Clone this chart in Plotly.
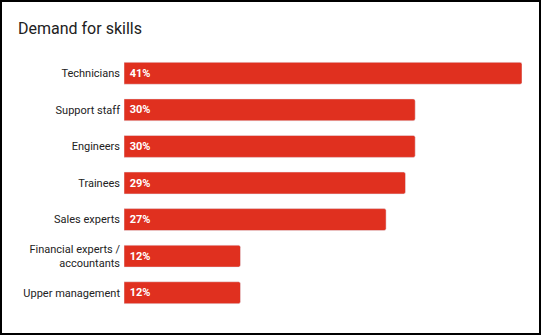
import plotly.graph_objects as go

categories = ["Technicians", "Support staff", "Engineers", "Trainees", "Sales experts",
              "Financial experts /<br>accountants", "Upper management"]
values = [41, 30, 30, 29, 27, 12, 12]
labels = [f"\u00a0{v}%" for v in values]

W, H = 541, 335
L, R, T, B = 124, 19, 55, 24

fig = go.Figure(go.Bar(
    y=categories, x=values, orientation="h",
    text=labels, textposition="inside", insidetextanchor="start",
    textfont=dict(family="Roboto", size=11, color="white", weight="bold"),
    marker=dict(color="#e0301f", cornerradius=2),
    width=0.6, hoverinfo="skip",
))

pw = W - L - R
ph = H - T - B
fig.update_layout(
    width=W, height=H,
    margin=dict(l=L, r=R, t=T, b=B),
    paper_bgcolor="white", plot_bgcolor="white",
    title=dict(text="Demand for skills", x=18 / W, xanchor="left", y=1 - 28 / H, yanchor="middle",
               font=dict(family="Roboto", size=16, color="#212121")),
    xaxis=dict(range=[0, 41], visible=False, fixedrange=True),
    yaxis=dict(autorange="reversed", showgrid=False, zeroline=False, showline=False, ticks="",
               tickfont=dict(family="Roboto", size=11, color="#222222"), ticklabelstandoff=3),
    showlegend=False,
    uniformtext=dict(minsize=11, mode="show"),
    shapes=[dict(type="rect", xref="paper", yref="paper",
                 x0=(1 - L) / pw, x1=(W - 1 - L) / pw,
                 y0=(H - B - (H - 1)) / ph, y1=(H - B - 1) / ph,
                 line=dict(color="black", width=2), fillcolor="rgba(0,0,0,0)")],
)
fig.write_html("out.html")
